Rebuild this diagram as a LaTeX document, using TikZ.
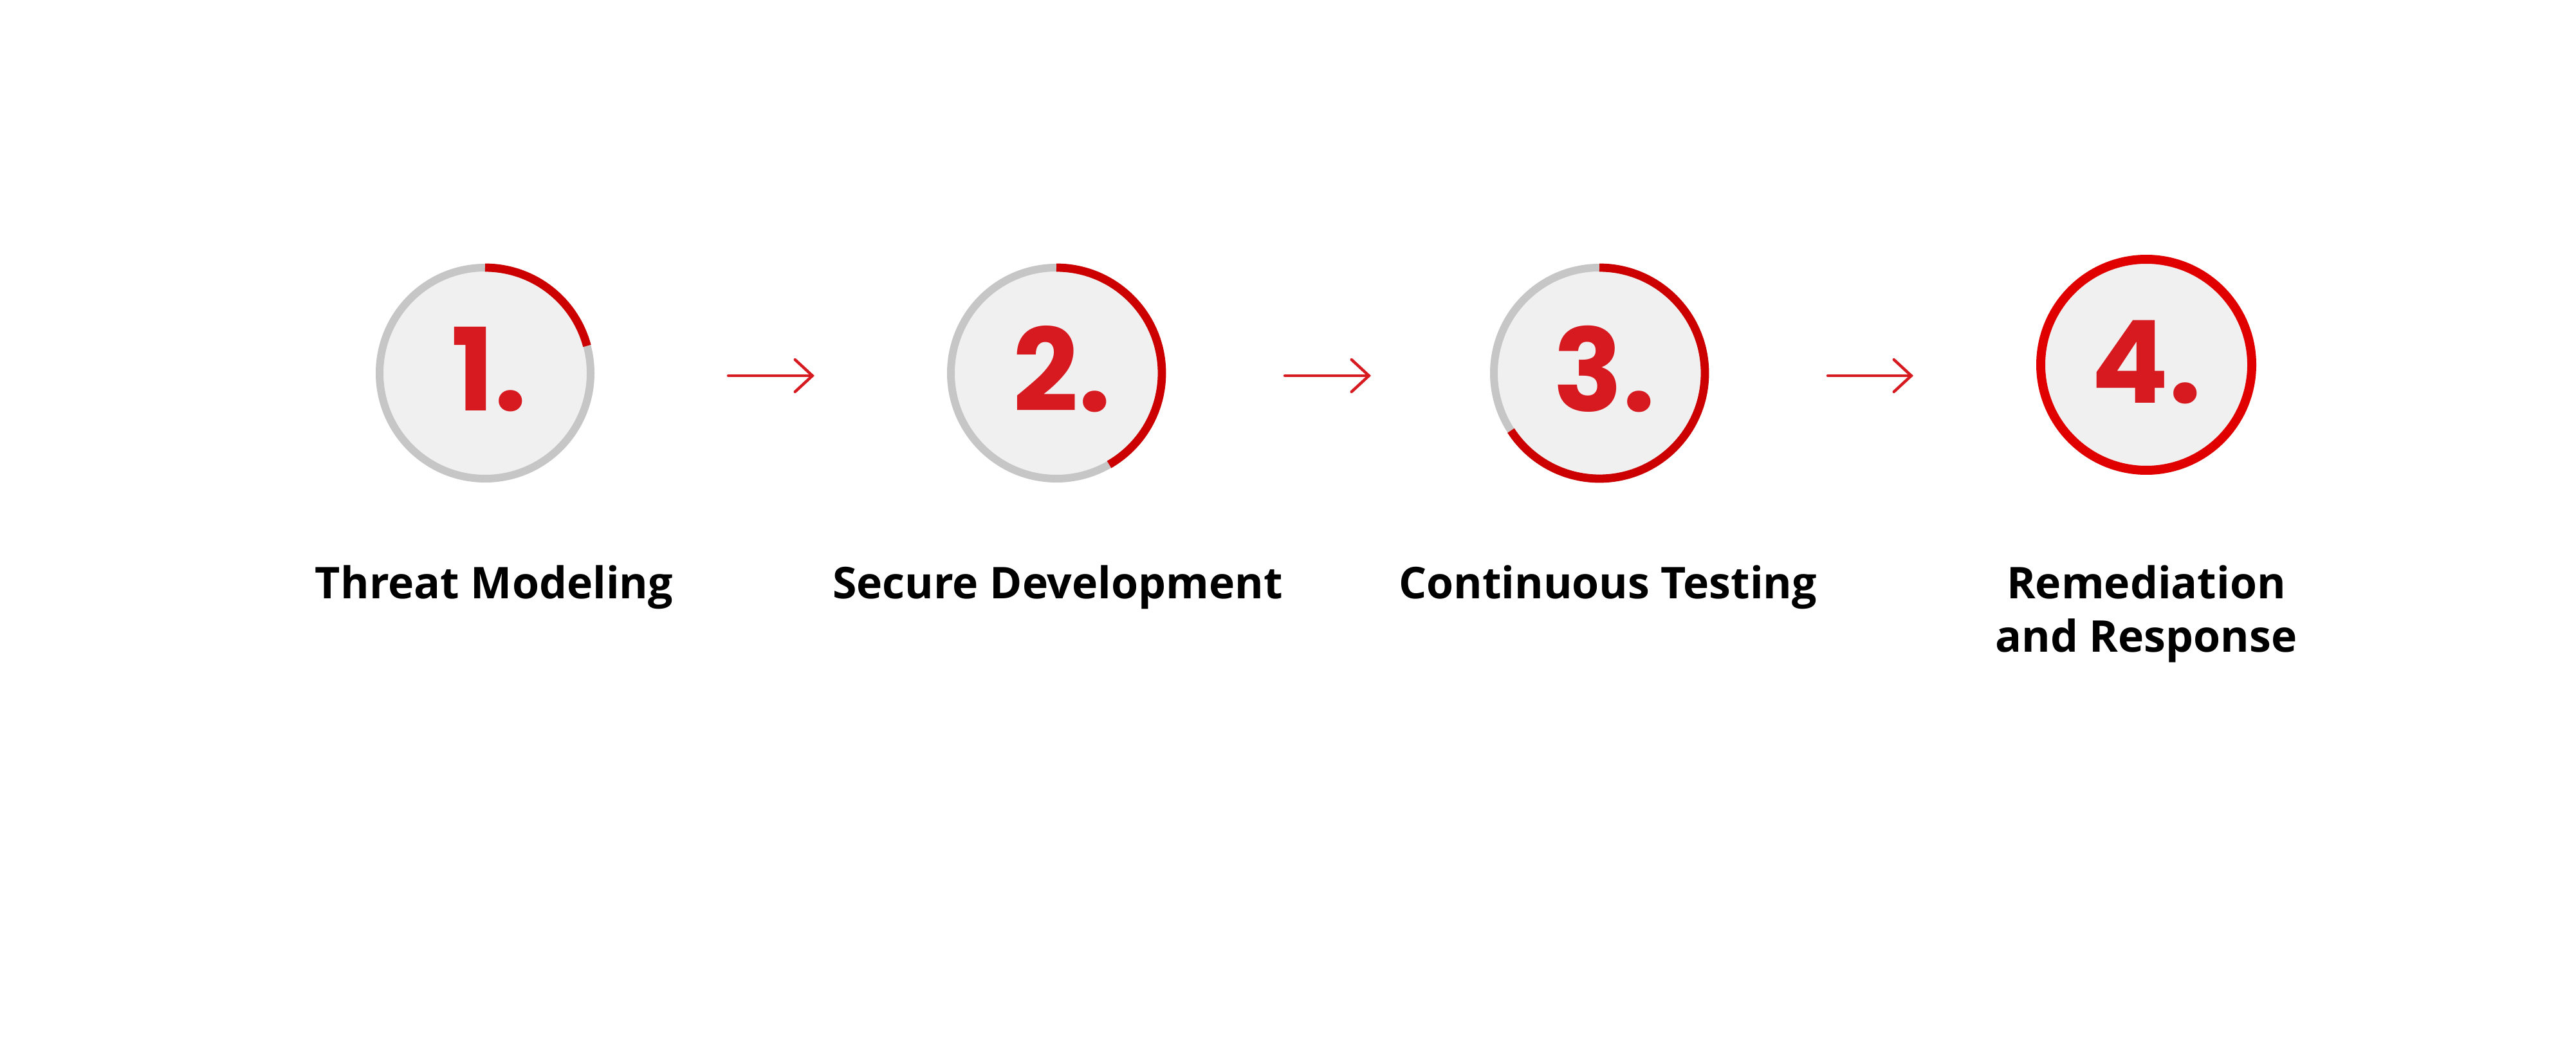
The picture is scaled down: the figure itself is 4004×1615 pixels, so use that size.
\documentclass[tikz,border=0pt]{standalone}
\usepackage{fontspec}
\setmainfont{Open Sans}
\newfontfamily\numfont{Poppins}
\usetikzlibrary{arrows.meta}
\definecolor{ringgray}{HTML}{C6C6C6}
\definecolor{fillgray}{HTML}{F0F0F0}
\definecolor{arcred}{HTML}{CC0000}
\definecolor{fullred}{HTML}{E00000}
\definecolor{numred}{HTML}{D71920}
\definecolor{arrowred}{HTML}{D71920}
\tikzset{
  stepcircle/.style={circle, minimum size=82pt, inner sep=0pt, outer sep=0pt,
    fill=fillgray, draw=ringgray, line width=3pt},
  progress/.style={draw=arcred, line width=3.2pt},
  numtext/.style={font=\numfont\bfseries\fontsize{44.6}{50}\selectfont, text=numred, inner sep=0pt},
  lbl/.style={font=\bfseries\fontsize{17}{20.75}\selectfont, text=black, inner sep=0pt, align=center},
  flow/.style={draw=arrowred, line width=1.1pt, line cap=round,
    -{Straight Barb[length=6.75pt, width=12.5pt, line cap=round]}}
}
\begin{document}
\begin{tikzpicture}[x=0.25pt, y=-0.25pt]
\path[use as bounding box, fill=white] (0,0) rectangle (4004,1615);

% circles
\node[stepcircle] (c1) at (754,580) {};
\node[stepcircle] (c2) at (1642,580) {};
\node[stepcircle] (c3) at (2486,580) {};
\node[stepcircle, draw=fullred, line width=3.5pt] (c4) at (3336,567) {};

% progress arcs
\draw[progress] (c1.north) arc[start angle=90, end angle=15, radius=41pt];
\draw[progress] (c2.north) arc[start angle=90, end angle=-60, radius=41pt];
\draw[progress] (c3.north) arc[start angle=90, end angle=-147, radius=41pt];

% numbers
\node[numtext] (n1) at (760,574) {1.};
\node[numtext] (n2) at (1651,574) {2.};
\node[numtext] (n3) at (2494,574) {3.};
\node[numtext] (n4) at (3336,563) {4.};

% arrows
\coordinate (a1s) at (1132,584); \coordinate (a1e) at (1266,584);
\coordinate (a2s) at (1997,584); \coordinate (a2e) at (2131,584);
\coordinate (a3s) at (2841,584); \coordinate (a3e) at (2974,584);
\draw[flow] (a1s) -- (a1e);
\draw[flow] (a2s) -- (a2e);
\draw[flow] (a3s) -- (a3e);

% labels
\node[lbl, anchor=base] (l1) at (768,930) {Threat Modeling};
\node[lbl, anchor=base] (l2) at (1644,930) {Secure Development};
\node[lbl, anchor=base] (l3) at (2499,930) {Continuous Testing};
\node[lbl, anchor=base] (l4) at (3336,1013) {Remediation\\and Response};
\end{tikzpicture}
\end{document}
